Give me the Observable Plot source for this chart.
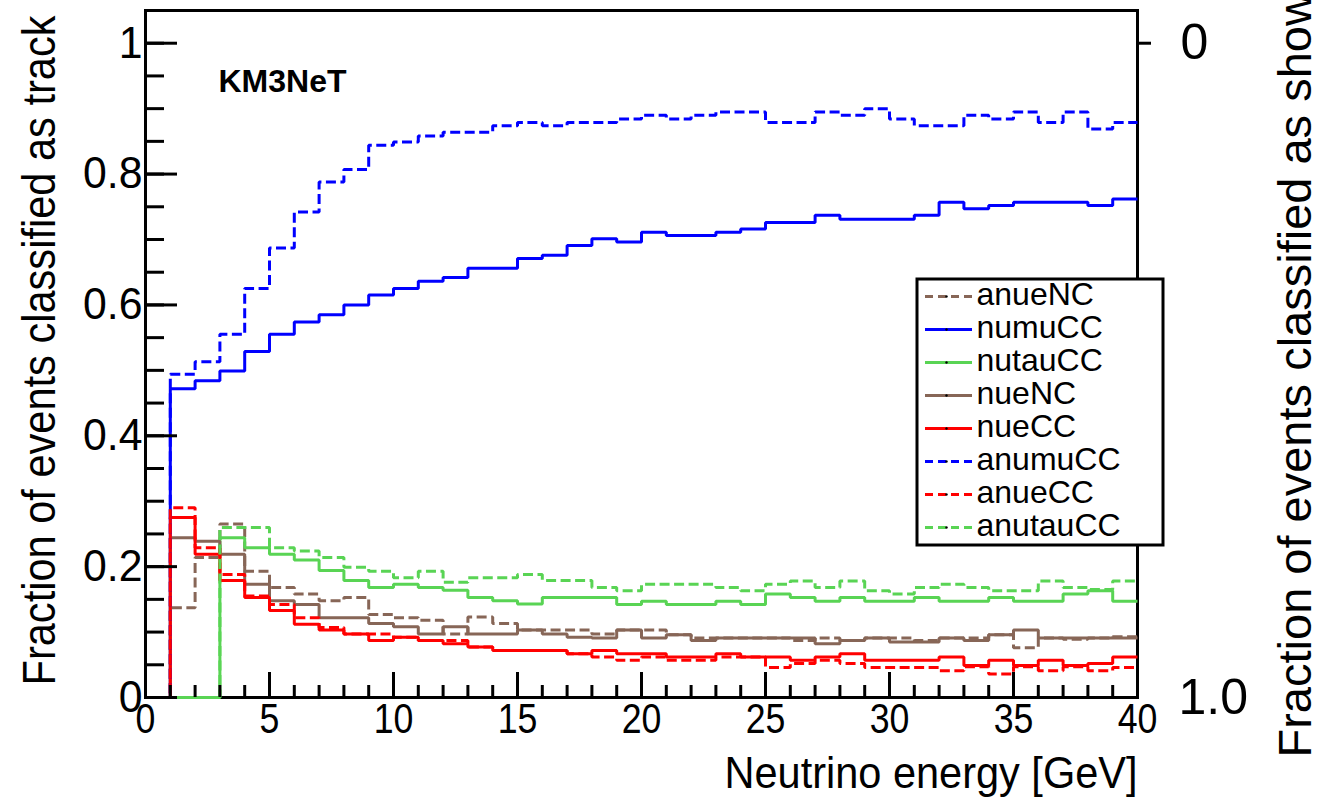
<!DOCTYPE html>
<html>
<head>
<meta charset="utf-8">
<script src="https://cdn.jsdelivr.net/npm/d3@7"></script>
<script src="https://cdn.jsdelivr.net/npm/@observablehq/plot@0.6"></script>
<style>
  html, body { margin: 0; padding: 0; background: #fff; overflow: hidden; }
  #chart { position: relative; width: 1317px; height: 798px; }
  #legend { position: absolute; left: 915px; top: 277px; }
</style>
</head>
<body>
<div id="chart"><div id="legend"></div></div>
<script>
// Fraction of events classified as track, per 1 GeV bin of neutrino energy (0–40 GeV)
const anueNC  = [0, 0.137, 0.214, 0.265, 0.193, 0.168, 0.158, 0.148, 0.153, 0.127,
                 0.122, 0.118, 0.097, 0.123, 0.113, 0.103, 0.103, 0.103, 0.097, 0.103,
                 0.103, 0.096, 0.091, 0.091, 0.091, 0.091, 0.087, 0.091, 0.087, 0.091,
                 0.091, 0.087, 0.091, 0.091, 0.096, 0.076, 0.091, 0.089, 0.091, 0.093];
const numuCC  = [0, 0.472, 0.484, 0.499, 0.529, 0.555, 0.574, 0.585, 0.600, 0.615,
                 0.625, 0.636, 0.642, 0.656, 0.656, 0.671, 0.676, 0.691, 0.701, 0.696,
                 0.711, 0.706, 0.706, 0.711, 0.716, 0.726, 0.726, 0.737, 0.731, 0.731,
                 0.731, 0.737, 0.757, 0.747, 0.752, 0.757, 0.757, 0.757, 0.752, 0.762];
const nutauCC = [0, 0, 0, 0.244, 0.229, 0.219, 0.210, 0.194, 0.179, 0.168,
                 0.173, 0.168, 0.164, 0.153, 0.148, 0.143, 0.153, 0.153, 0.153, 0.142,
                 0.147, 0.142, 0.142, 0.147, 0.142, 0.158, 0.153, 0.147, 0.153, 0.147,
                 0.147, 0.153, 0.147, 0.147, 0.153, 0.147, 0.147, 0.158, 0.163, 0.147];
const nueNC   = [0, 0.244, 0.239, 0.219, 0.173, 0.148, 0.142, 0.122, 0.122, 0.113,
                 0.108, 0.097, 0.108, 0.097, 0.097, 0.103, 0.097, 0.092, 0.091, 0.103,
                 0.091, 0.096, 0.087, 0.091, 0.091, 0.091, 0.091, 0.082, 0.087, 0.091,
                 0.085, 0.085, 0.091, 0.087, 0.096, 0.103, 0.091, 0.091, 0.091, 0.091];
const nueCC   = [0, 0.275, 0.219, 0.179, 0.153, 0.133, 0.112, 0.103, 0.097, 0.087,
                 0.092, 0.087, 0.082, 0.077, 0.072, 0.072, 0.072, 0.067, 0.072, 0.067,
                 0.067, 0.062, 0.062, 0.067, 0.062, 0.062, 0.057, 0.062, 0.067, 0.057,
                 0.057, 0.057, 0.062, 0.049, 0.057, 0.049, 0.057, 0.049, 0.052, 0.062];
const anumuCC = [0, 0.494, 0.513, 0.555, 0.625, 0.687, 0.742, 0.788, 0.807, 0.844,
                 0.849, 0.858, 0.864, 0.864, 0.874, 0.879, 0.874, 0.879, 0.879, 0.884,
                 0.890, 0.884, 0.890, 0.895, 0.895, 0.879, 0.879, 0.895, 0.890, 0.900,
                 0.884, 0.874, 0.874, 0.890, 0.884, 0.895, 0.879, 0.895, 0.869, 0.879];
const anueCC  = [0, 0.290, 0.229, 0.188, 0.155, 0.142, 0.122, 0.107, 0.097, 0.097,
                 0.092, 0.087, 0.087, 0.077, 0.072, 0.072, 0.072, 0.067, 0.062, 0.057,
                 0.062, 0.057, 0.057, 0.062, 0.062, 0.046, 0.052, 0.057, 0.052, 0.046,
                 0.046, 0.046, 0.041, 0.047, 0.036, 0.047, 0.041, 0.047, 0.041, 0.046];
const anutauCC = [0, 0, 0, 0.260, 0.260, 0.229, 0.224, 0.214, 0.199, 0.193,
                 0.183, 0.193, 0.176, 0.183, 0.183, 0.188, 0.179, 0.179, 0.168, 0.163,
                 0.173, 0.173, 0.173, 0.168, 0.163, 0.173, 0.178, 0.168, 0.178, 0.163,
                 0.158, 0.168, 0.173, 0.168, 0.163, 0.163, 0.178, 0.168, 0.165, 0.178];

// Channels in drawing / legend order
const channelNames = ["anueNC", "numuCC", "nutauCC", "nueNC", "nueCC", "anumuCC", "anueCC", "anutauCC"];
const channelValues = {anueNC, numuCC, nutauCC, nueNC, nueCC, anumuCC, anueCC, anutauCC};

// Lower edge of each energy bin [GeV]
const binLow = d3.range(0, 40);
const binWidth = 1;

// Axis ticks and labels
const yTickValues = [0, 0.2, 0.4, 0.6, 0.8, 1];
const yTickLabels = ["0", "0.2", "0.4", "0.6", "0.8", "1"];
const xTickValues = [0, 5, 10, 15, 20, 25, 30, 35, 40];
const xTickLabels = ["0", "5", "10", "15", "20", "25", "30", "35", "40"];
const showerTickValues = [0, 1];
const showerTickLabels = ["0", "1.0"];

const yTitle = "Fraction of events classified as track";
const y2Title = "Fraction of events classified as shower";
const xTitle = "Neutrino energy [GeV]";
const experimentLabel = "KM3NeT";

// Line styles
const BROWN = "#876657", BLUE = "#0000ff", GREEN = "#59d454", RED = "#ff0000";
const channelStyle = {
  anueNC:   {color: BROWN, dashed: true},
  numuCC:   {color: BLUE,  dashed: false},
  nutauCC:  {color: GREEN, dashed: false},
  nueNC:    {color: BROWN, dashed: false},
  nueCC:    {color: RED,   dashed: false},
  anumuCC:  {color: BLUE,  dashed: true},
  anueCC:   {color: RED,   dashed: true},
  anutauCC: {color: GREEN, dashed: true}
};
const DASH = "10,4.5";
const FONT = "'Liberation Sans', Arial, Helvetica, sans-serif";

// Histogram outlines: one point per bin plus the closing upper edge
const rows = channelNames.flatMap(name => {
  const v = channelValues[name];
  const pts = v.map((f, i) => ({channel: name, energy: binLow[i], fraction: f}));
  pts.push({channel: name, energy: binLow[v.length - 1] + binWidth, fraction: v[v.length - 1]});
  return pts;
});

const W = 1317, H = 798;
const M = {top: 10, right: 180, bottom: 101, left: 145};
const plotW = W - M.left - M.right;
const plotH = H - M.top - M.bottom;

const yMinor = d3.range(0, 21).map(i => i * 0.05);
const xMinor = d3.range(0, 41);

const chart = Plot.plot({
  width: W,
  height: H,
  marginTop: M.top,
  marginRight: M.right,
  marginBottom: M.bottom,
  marginLeft: M.left,
  style: {fontFamily: FONT, color: "#000", background: "#fff", overflow: "visible"},
  x: {domain: [0, 40], axis: null},
  y: {domain: [0, 1.05], axis: null},
  marks: [
    Plot.frame({stroke: "#000", strokeWidth: 3}),
    ...channelNames.map(name => Plot.line(rows.filter(d => d.channel === name), {
      x: "energy",
      y: "fraction",
      curve: "step-after",
      stroke: channelStyle[name].color,
      strokeWidth: 3,
      strokeDasharray: channelStyle[name].dashed ? DASH : null,
      strokeLinejoin: "miter",
      strokeLinecap: "butt"
    })),
    // inward ticks on the left and bottom axes
    Plot.tickY(yMinor, {y: d => d, stroke: "#000", strokeWidth: 3, insetRight: plotW - 19}),
    Plot.tickY(yTickValues, {y: d => d, stroke: "#000", strokeWidth: 3, insetRight: plotW - 32}),
    Plot.tickX(xMinor, {x: d => d, stroke: "#000", strokeWidth: 3, insetTop: plotH - 12}),
    Plot.tickX(xTickValues, {x: d => d, stroke: "#000", strokeWidth: 3, insetTop: plotH - 25}),
    // tick labels
    Plot.axisY(yTickValues, {
      anchor: "left", label: null, tickSize: 0, tickPadding: 3, fontSize: 45,
      tickFormat: d => yTickLabels[yTickValues.indexOf(d)]
    }),
    Plot.axisX(xTickValues, {
      anchor: "bottom", label: null, tickSize: 0, tickPadding: 6, fontSize: 42,
      tickFormat: d => xTickLabels[xTickValues.indexOf(d)]
    }),
    // shower fraction (complement) on the right
    Plot.axisY([1 - showerTickValues[0]], {
      anchor: "right", label: null, tickSize: 13, tickPadding: 30, fontSize: 50, strokeWidth: 3,
      tickFormat: () => showerTickLabels[0]
    }),
    Plot.axisY([1 - showerTickValues[1]], {
      anchor: "right", label: null, tickSize: 0, tickPadding: 41, fontSize: 50,
      tickFormat: () => showerTickLabels[1]
    }),
    // titles
    Plot.text([yTitle], {
      text: d => d, frameAnchor: "left", rotate: -90, dx: -91, dy: -3.5,
      lineAnchor: "bottom", textAnchor: "middle", fontSize: 46
    }),
    Plot.text([y2Title], {
      text: d => d, frameAnchor: "bottom-right", rotate: -90, dx: 173, dy: 60,
      lineAnchor: "bottom", textAnchor: "start", fontSize: 47
    }),
    Plot.text([xTitle], {
      text: d => d, frameAnchor: "bottom-right", dy: 90,
      lineAnchor: "bottom", textAnchor: "end", fontSize: 44
    }),
    Plot.text([experimentLabel], {
      text: d => d, frameAnchor: "top-left", dx: 73, dy: 81,
      lineAnchor: "bottom", textAnchor: "start", fontSize: 32, fontWeight: "bold"
    })
  ]
});

const container = document.getElementById("chart");
container.insertBefore(chart, container.firstChild);

// ROOT-style narrow lettering on the left and bottom axes
function squeeze(node, length) {
  node.setAttribute("textLength", length);
  node.setAttribute("lengthAdjust", "spacingAndGlyphs");
}
d3.select(chart).selectAll("text").each(function () {
  const s = this.textContent;
  const anchor = this.closest("[text-anchor]")?.getAttribute("text-anchor");
  if (s === yTitle) squeeze(this, 670);
  else if (s === xTitle) squeeze(this, 413);
  else if (xTickLabels.includes(s) && anchor === "middle") squeeze(this, this.getComputedTextLength() * 0.85);
  else if (yTickLabels.includes(s) && anchor === "end") squeeze(this, this.getComputedTextLength() * 0.95);
});

// Legend box
const LW = 249, LH = 269;
const legend = Plot.plot({
  width: LW,
  height: LH,
  marginTop: 0, marginRight: 0, marginBottom: 0, marginLeft: 0,
  style: {fontFamily: FONT, color: "#000", background: "transparent", overflow: "visible"},
  x: {domain: [0, LW], range: [0, LW], axis: null},
  y: {type: "point", domain: channelNames, range: [18, 250], padding: 0, axis: null},
  marks: [
    Plot.frame({fill: "#fff", stroke: "#000", strokeWidth: 3, inset: 1.5}),
    ...channelNames.map(name => Plot.ruleY([name], {
      y: d => d, x1: 10, x2: 57,
      stroke: channelStyle[name].color, strokeWidth: 3,
      strokeDasharray: channelStyle[name].dashed ? "8,5" : null
    })),
    Plot.dot(channelNames, {y: d => d, x: 31, r: 1.2, fill: "#000", stroke: null}),
    Plot.text(channelNames, {
      y: d => d, x: 61, text: d => d, textAnchor: "start",
      lineAnchor: "bottom", dy: 8.5, fontSize: 32
    })
  ]
});
document.getElementById("legend").appendChild(legend);
</script>
</body>
</html>
